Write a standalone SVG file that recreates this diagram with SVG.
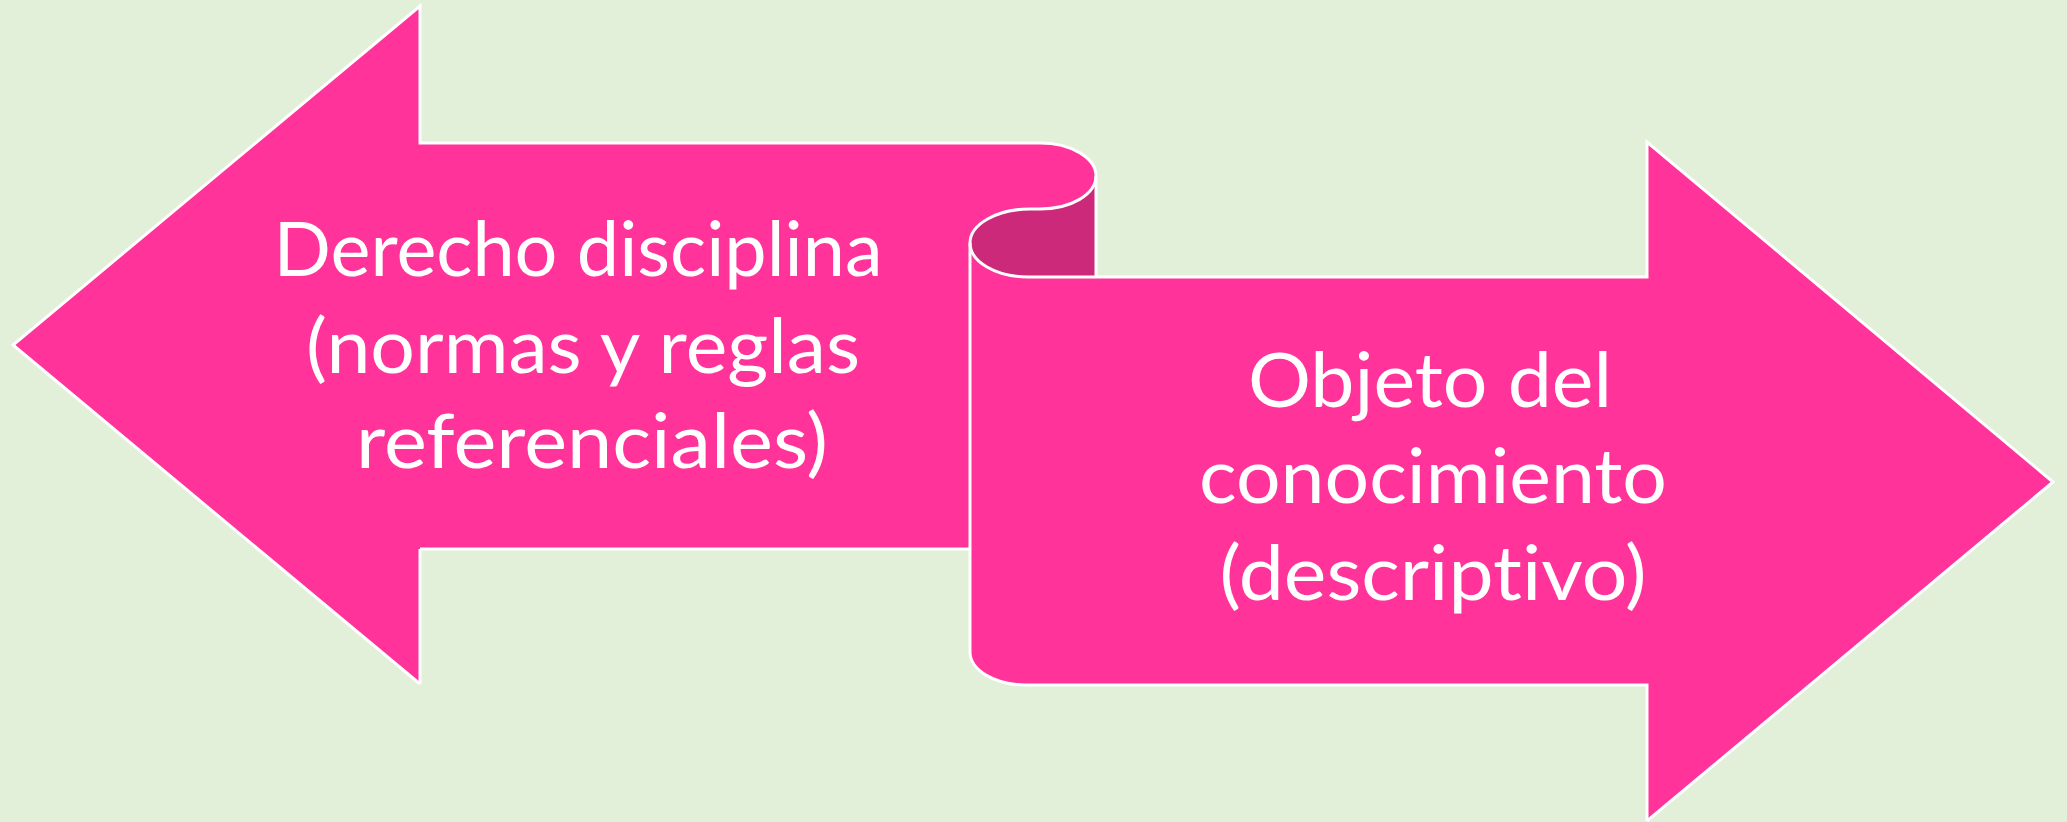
<svg xmlns="http://www.w3.org/2000/svg" width="2067" height="822" viewBox="0 0 2067 822">
<style>
.bg{fill:#E2EFD9}
.pink{fill:#FF3399}
.dark{fill:#CC297A}
.edge{fill:none;stroke:#FFFFFF;stroke-width:3;stroke-linejoin:miter}
.lbl{font-family:Lato,"Open Sans","Liberation Sans",sans-serif;font-size:76px;fill:#FFFFFF;text-anchor:middle;font-variant-ligatures:none;font-feature-settings:"liga" 0,"dlig" 0,"clig" 0}
</style>
<rect class="bg" x="0" y="0" width="2067" height="822"/>
<g id="left-arrow">
<path class="pink" d="M13,345 L420,6 L420,143 L1040,143 A56,33 0 0 1 1040,209 L1030,209 L970,243 L970,549 L420,549 L420,684 Z"/>
</g>
<g id="right-arrow">
<path class="pink" d="M970,243 A58,34 0 0 0 1028,277 L1647,277 L1647,142 L2053,482 L1647,821 L1647,685 L1026,685 A56,33 0 0 1 970,652 Z"/>
</g>
<g id="scroll-curl">
<path class="dark" d="M1096,176 L1096,277 L1028,277 A58,34 0 0 1 970,243 A60,34 0 0 1 1030,209 L1040,209 A56,33 0 0 0 1096,176 Z"/>
</g>
<g id="connectors">
<path class="edge" d="M420,549 L970,549"/>
<path class="edge" d="M420,684 L420,549"/>
<path class="edge" d="M420,684 L13,345 L420,6 L420,143 L1040,143 A56,33 0 0 1 1040,209 L1030,209 A60,34 0 0 0 970,243 L970,652 A56,33 0 0 0 1026,685 L1647,685 L1647,821"/>
<path class="edge" d="M970,243 A58,34 0 0 0 1028,277 L1647,277 L1647,142 L2053,482 L1647,821"/>
<path class="edge" d="M1096,176 L1096,277"/>
</g>
<g id="label-left">
<text class="lbl" x="578" y="276" textLength="609" lengthAdjust="spacingAndGlyphs">Derecho disciplina</text>
<text class="lbl" x="583" y="373" textLength="554" lengthAdjust="spacingAndGlyphs">(normas y reglas</text>
<text class="lbl" x="592" y="468" textLength="472" lengthAdjust="spacingAndGlyphs">referenciales)</text>
</g>
<g id="label-right">
<text class="lbl" x="1430" y="407" textLength="364" lengthAdjust="spacingAndGlyphs">Objeto del</text>
<text class="lbl" x="1433" y="503" textLength="468" lengthAdjust="spacingAndGlyphs">conocimiento</text>
<text class="lbl" x="1433" y="600" textLength="427" lengthAdjust="spacingAndGlyphs">(descriptivo)</text>
</g>
</svg>
